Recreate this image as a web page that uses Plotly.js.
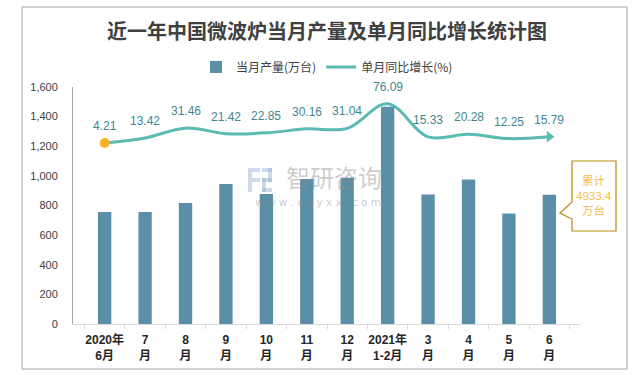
<!DOCTYPE html>
<html>
<head>
<meta charset="utf-8">
<script src="https://cdn.plot.ly/plotly-3.0.1.min.js"></script>
<style>html,body{margin:0;padding:0;background:#fff;}#chart{width:636px;height:375px;}</style>
</head>
<body>
<div id="chart"></div>
<script>
// ---- data ----
var categories = ['2020年<br>6月','7<br>月','8<br>月','9<br>月','10<br>月','11<br>月','12<br>月','2021年<br>1-2月','3<br>月','4<br>月','5<br>月','6<br>月'];
var output = [756, 756, 817, 945, 878, 979, 988, 1466, 874, 976, 746, 872];   // 当月产量(万台)
var growth = [4.21, 13.42, 31.46, 21.42, 22.85, 30.16, 31.04, 76.09, 15.33, 20.28, 12.25, 15.79]; // 单月同比增长(%)
var yTickVals = [0, 200, 400, 600, 800, 1000, 1200, 1400, 1600];
var yTickText = ['0', '200', '400', '600', '800', '1,000', '1,200', '1,400', '1,600'];
var titleText = '近一年中国微波炉当月产量及单月同比增长统计图';
var seriesNames = ['当月产量(万台)', '单月同比增长(%)'];
var cumulativeText = '累计<br>4933.4<br>万台';

// ---- layout helpers (pixel -> paper) ----
var L = 73, R = 581, T = 87, B = 324;
function px(x){ return (x - L) / (R - L); }
function py(y){ return (B - y) / (B - T); }

var FONT = 'Liberation Sans, Noto Sans CJK SC, sans-serif';
var barColor = '#5B8FA7';
var lineColor = '#5BBAB2';
var labelColor = '#3E8791';
var n = growth.length;

var traces = [
  {
    type: 'bar', x: categories, y: output, name: seriesNames[0],
    marker: { color: barColor }, yaxis: 'y'
  },
  {
    type: 'scatter', mode: 'lines', x: categories, y: growth, name: seriesNames[1],
    line: { color: lineColor, width: 3, shape: 'spline', smoothing: 1 },
    yaxis: 'y2'
  },
  { // start point marker
    type: 'scatter', mode: 'markers', x: categories.slice(0, 1), y: growth.slice(0, 1), showlegend: false,
    marker: { symbol: 'circle', size: 10, color: '#F5B325', line: { width: 0 } },
    yaxis: 'y2', cliponaxis: false
  },
  { // arrow head at the end
    type: 'scatter', mode: 'markers', x: categories.slice(n - 1), y: growth.slice(n - 1), showlegend: false,
    marker: { symbol: 'triangle-right', size: 10, color: lineColor, line: { width: 0 } },
    yaxis: 'y2', cliponaxis: false
  }
];

var annotations = [];
for (var j = 0; j < n; j++) {
  annotations.push({
    x: categories[j], y: growth[j], xref: 'x', yref: 'y2',
    text: growth[j].toFixed(2), showarrow: false, yshift: 17,
    font: { family: FONT, size: 12, color: labelColor }
  });
}
// cumulative callout text
annotations.push({
  xref: 'paper', yref: 'paper', x: px(594), y: py(196), xanchor: 'center', yanchor: 'middle',
  text: cumulativeText, showarrow: false,
  font: { family: FONT, size: 11.5, color: '#F5BE4A' }
});
// watermark
annotations.push({
  xref: 'paper', yref: 'paper', x: px(334), y: py(176), xanchor: 'center', yanchor: 'middle',
  text: '智研咨询', showarrow: false, borderpad: 0,
  font: { family: 'Noto Sans CJK SC, sans-serif', size: 24, color: 'rgba(140,140,140,0.45)' }
});
annotations.push({
  xref: 'paper', yref: 'paper', x: px(318), y: py(202), xanchor: 'center', yanchor: 'middle',
  text: 'w w w . c h y x x . c o m', showarrow: false, borderpad: 0,
  font: { family: 'DejaVu Sans, sans-serif', size: 10.5, color: 'rgba(140,140,140,0.45)' }
});

var wm = 'rgba(150,170,210,0.45)';
var shapes = [
  // outer frame
  { type: 'rect', xref: 'paper', yref: 'paper', x0: px(22), x1: px(627), y0: py(369), y1: py(7),
    line: { color: '#A6A6A6', width: 1 }, fillcolor: 'rgba(0,0,0,0)', layer: 'below' },
  // callout
  { type: 'path', xref: 'paper', yref: 'paper',
    path: 'M ' + px(572) + ',' + py(161) + ' L ' + px(616) + ',' + py(161) + ' L ' + px(616) + ',' + py(231) +
          ' L ' + px(572) + ',' + py(231) + ' L ' + px(572) + ',' + py(219) + ' L ' + px(560) + ',' + py(213) +
          ' L ' + px(572) + ',' + py(202) + ' Z',
    fillcolor: '#FFFFFF', line: { color: '#B8890F', width: 1.2 }, layer: 'above' },
  // watermark logo approximation
  { type: 'rect', xref: 'paper', yref: 'paper', x0: px(248), x1: px(252), y0: py(192), y1: py(168), fillcolor: wm, line: { width: 0 } },
  { type: 'rect', xref: 'paper', yref: 'paper', x0: px(252), x1: px(260), y0: py(172), y1: py(168), fillcolor: wm, line: { width: 0 } },
  { type: 'rect', xref: 'paper', yref: 'paper', x0: px(252), x1: px(260), y0: py(182), y1: py(178), fillcolor: wm, line: { width: 0 } },
  { type: 'rect', xref: 'paper', yref: 'paper', x0: px(262), x1: px(272), y0: py(172), y1: py(168), fillcolor: wm, line: { width: 0 } },
  { type: 'rect', xref: 'paper', yref: 'paper', x0: px(268), x1: px(272), y0: py(182), y1: py(168), fillcolor: wm, line: { width: 0 } },
  { type: 'rect', xref: 'paper', yref: 'paper', x0: px(262), x1: px(272), y0: py(182), y1: py(178), fillcolor: wm, line: { width: 0 } },
  { type: 'rect', xref: 'paper', yref: 'paper', x0: px(262), x1: px(266), y0: py(192), y1: py(178), fillcolor: wm, line: { width: 0 } },
  { type: 'rect', xref: 'paper', yref: 'paper', x0: px(262), x1: px(272), y0: py(192), y1: py(188), fillcolor: wm, line: { width: 0 } }
];

var layout = {
  width: 636, height: 375,
  margin: { l: L, r: 636 - R, t: T, b: 375 - B, pad: 0 },
  paper_bgcolor: '#FFFFFF', plot_bgcolor: '#FFFFFF',
  font: { family: FONT, color: '#404040' },
  title: {
    text: '<b>' + titleText + '</b>', x: 0.5, xref: 'paper', xanchor: 'center',
    y: 1 - 32 / 375, yref: 'container', yanchor: 'middle',
    font: { family: 'Noto Sans CJK SC, sans-serif', size: 20, color: '#404040' }
  },
  showlegend: true,
  legend: {
    orientation: 'h', x: 0.5, xanchor: 'center', y: 1 + 20 / (B - T), yanchor: 'middle',
    font: { family: 'Noto Sans CJK SC, sans-serif', size: 12, color: '#404040' },
    itemwidth: 30, tracegroupgap: 0, bgcolor: 'rgba(0,0,0,0)'
  },
  bargap: 0.67,
  xaxis: {
    type: 'category', showgrid: false, zeroline: false,
    showline: true, linecolor: '#D9D9D9', linewidth: 1,
    ticks: 'outside', tickson: 'boundaries', ticklen: 4, tickcolor: '#D9D9D9',
    tickangle: 0,
    tickfont: { family: FONT, size: 12, color: '#262626', weight: 'bold' },
    ticklabelstandoff: 5, fixedrange: true
  },
  yaxis: {
    range: [0, 1600], tickvals: yTickVals, ticktext: yTickText,
    showgrid: false, zeroline: false, showline: true, linecolor: '#A6A6A6', linewidth: 1,
    ticks: '', tickfont: { family: FONT, size: 11, color: '#404040' },
    ticklabelstandoff: 12, fixedrange: true
  },
  yaxis2: {
    overlaying: 'y', side: 'right', range: [-328, 107], visible: false, fixedrange: true
  },
  annotations: annotations,
  shapes: shapes,
  hovermode: false
};

Plotly.newPlot('chart', traces, layout, { displayModeBar: false, staticPlot: true });
</script>
</body>
</html>
